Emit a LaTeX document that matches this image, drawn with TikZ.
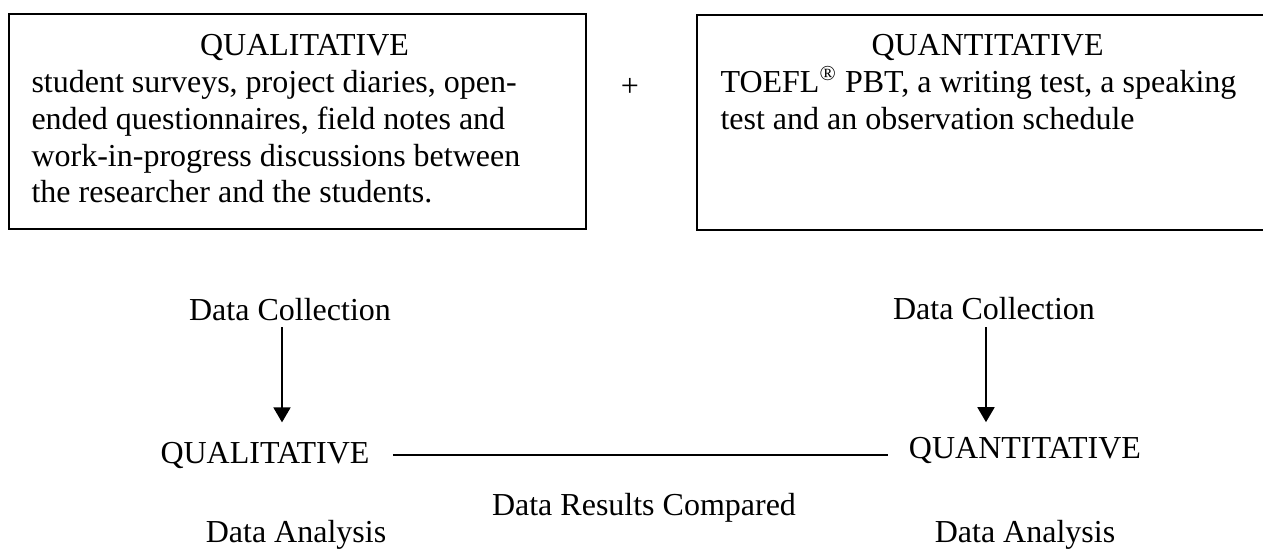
\documentclass[tikz,border=0pt]{standalone}
\usepackage{fontspec}
\setmainfont{Liberation Serif}
\usetikzlibrary{arrows.meta}
\newcommand{\boxtitle}[1]{\makebox[\hsize]{#1}}
\begin{document}
\begin{tikzpicture}[x=0.375pt, y=-0.375pt,
    every node/.style={font=\fontsize{12}{13.8}\selectfont, inner sep=0pt},
    frame/.style={draw, line width=0.75pt},
    boxtext/.style={anchor=north west, align=flush left},
    stage/.style={anchor=base},
    flowarrow/.style={-{Triangle[width=6.4pt,length=5.6pt]}, line width=0.6pt},
    compareline/.style={line width=0.6pt}]
      \useasboundingbox (0,0) rectangle (1263,553);
      \draw[frame] (9,14) rectangle (586,229);
      \draw[frame] (697,15) rectangle (1290,230);
      \node[boxtext, text width=204.75pt] (qualbox) at (31,34)
        {\boxtitle{QUALITATIVE}\\
         student surveys, project diaries, open-\\
         ended questionnaires, field notes and\\
         work-in-progress discussions between\\
         the researcher and the students.};
      \node[boxtext, text width=200.25pt] (quantbox) at (720,34)
        {\boxtitle{QUANTITATIVE}\\
         TOEFL\textsuperscript{®} PBT, a writing test, a speaking\\
         test and an observation schedule};
      \node (plus) at (630,87) {+};
      \node[stage] (qualcoll) at (290,320) {Data Collection};
      \node[stage] (quantcoll) at (994,319) {Data Collection};
      \node[stage] (qualres) at (265,463) {QUALITATIVE};
      \node[stage] (quantres) at (1025,458) {QUANTITATIVE};
      \node[stage] (compared) at (644,515) {Data Results Compared};
      \node[stage] (qualan) at (296,542) {Data Analysis};
      \node[stage] (quantan) at (1025,542) {Data Analysis};
      \coordinate (qualarr) at (282,327);
      \coordinate (quantarr) at (986,327);
      \begin{scope}[flowarrow]
        \draw[shorten >=7.1pt] (qualarr) to (qualarr |- qualres.north);
        \draw[shorten >=5.3pt] (quantarr) to (quantarr |- quantres.north);
      \end{scope}
      \draw[compareline, shorten <=8.6pt, shorten >=7.5pt]
        (qualres.east) to (qualres.east -| quantres.west);
    \end{tikzpicture}
\end{document}
